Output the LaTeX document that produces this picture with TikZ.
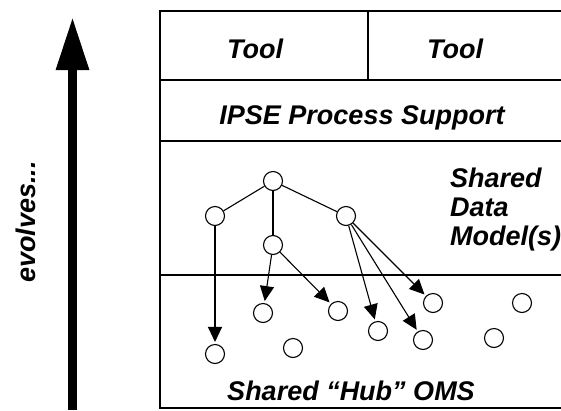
\documentclass[tikz,border=0pt]{standalone}
\usepackage{fontspec}
\setmainfont{Liberation Sans}
\usepackage{tikz}
\usetikzlibrary{arrows.meta}

\begin{document}
\begin{tikzpicture}[x=1pt, y=-1pt, >={Triangle[length=15pt,width=14pt]},
  obj/.style={circle,draw,line width=1.1pt,minimum size=19pt,inner sep=0pt},
  label text/.style={font=\fontsize{27}{29}\selectfont\bfseries\itshape, inner sep=0pt},
  link/.style={line width=1.1pt}]
\useasboundingbox (0,0) rectangle (561,410);

% the big arrow on the left
\coordinate (foot) at (72.5,410);
\coordinate (tip) at (72.5,17);
\draw [line width=9pt, -{Triangle[length=53pt,width=31pt]}] (foot) -- (tip);
\node [label text, rotate=90, anchor=base] (evolves) at (35,222) {evolves...};

% layers of the box (open to the right)
\draw [line width=1.5pt] (561,11) -- (160,11) -- (160,408) -- (561,408);
\draw [line width=1.5pt] (368,11) -- (368,80);
\draw [line width=1.5pt] (160,80) -- (561,80);
\draw [line width=1.5pt] (160,141) -- (561,141);
\draw [line width=1.2pt] (160,275) -- (561,275);

\node [label text, anchor=base] (tool1) at (255,58) {Tool};
\node [label text, anchor=base] (tool2) at (455,58) {Tool};
\node [label text, anchor=base] (ipse) at (362,124) {IPSE Process Support};
% base west of a multi-line node sits on the last line
\node [label text, anchor=base west, align=left] (model) at (450,245) {Shared\\Data\\Model(s)};
\node [label text, anchor=base] (hub) at (351,400) {Shared “Hub” OMS};

% data model tree
\node [obj] (root) at (273,181) {};
\node [obj] (m1) at (215,216) {};
\node [obj] (m2) at (273,245) {};
\node [obj] (m3) at (346,216) {};

% objects in the hub
\node [obj] (o1) at (215,354) {};
\node [obj] (o2) at (263,313) {};
\node [obj] (o3) at (338,311) {};
\node [obj] (o4) at (293,348) {};
\node [obj] (o5) at (378,331) {};
\node [obj] (o6) at (423,340) {};
\node [obj] (o7) at (433,303) {};
\node [obj] (o8) at (522,303) {};
\node [obj] (o9) at (494,338) {};

\draw [link] (root) -- (m1);
\draw [link] (root) -- (m2);
\draw [link] (root) -- (m3);

\draw [link,->,shorten >=2pt] (m1) -- (o1);
\draw [link,->,shorten >=2pt] (m2) -- (o2);
\draw [link,->,shorten >=2pt] (m2) -- (o3);
\draw [link,->,shorten >=2pt] (m3) -- (o5);
\draw [link,->,shorten >=2pt] (m3) -- (o6);
\draw [link,->,shorten >=2pt] (m3) -- (o7);

\end{tikzpicture}
\end{document}
